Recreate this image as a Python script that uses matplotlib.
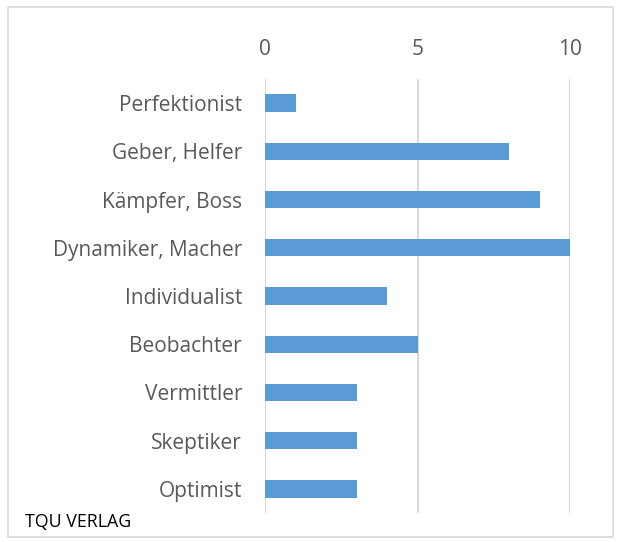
import matplotlib.pyplot as plt
from matplotlib.patches import Rectangle

# Categories, top to bottom
categories = ["Perfektionist", "Geber, Helfer", "Kämpfer, Boss", "Dynamiker, Macher",
              "Individualist", "Beobachter", "Vermittler", "Skeptiker", "Optimist"]
values = [1, 8, 9, 10, 4, 5, 3, 3, 3]
x_ticks = [0, 5, 10]

plt.rcParams['font.family'] = ['Open Sans', 'DejaVu Sans']

fig = plt.figure(figsize=(6.17, 5.42), dpi=100)

# light outer frame
fig.patches.append(Rectangle((8 / 617, 1 - 537 / 542), 605 / 617, 530 / 542,
                             transform=fig.transFigure, fill=False,
                             edgecolor="#d9d9d9", linewidth=1.2))

ax = fig.add_axes([265 / 617, 1 - 513 / 542, 305 / 617, 434 / 542])
ax.barh(range(len(categories)), values, height=0.36, color="#5b9bd5")

ax.set_xlim(0, 10)
ax.set_ylim(len(categories) - 0.5, -0.5)
ax.set_yticks(range(len(categories)))
ax.set_yticklabels(categories)
ax.set_xticks(x_ticks)
ax.xaxis.tick_top()
ax.tick_params(axis="both", length=0, labelsize=15, colors="#595959")
ax.tick_params(axis="x", pad=14)
ax.tick_params(axis="y", pad=16.5)

ax.grid(axis="x", color="#d9d9d9", linewidth=1.5)
ax.set_axisbelow(True)
for s in ax.spines.values():
    s.set_visible(False)

fig.text(25 / 617, 1 - 522 / 542, "TQU VERLAG", fontsize=12.8, color="black",
         va="center", ha="left")

fig.savefig("out.png", dpi=100)
